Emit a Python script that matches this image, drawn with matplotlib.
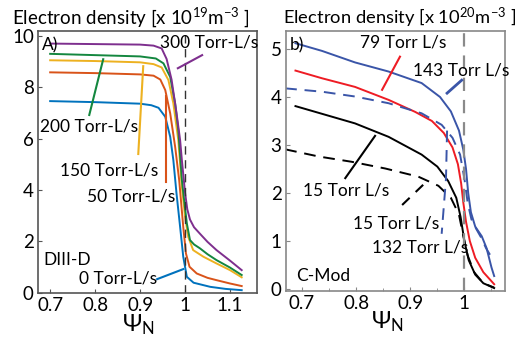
import matplotlib.pyplot as plt
from matplotlib.ticker import MultipleLocator

plt.rcParams.update({
    "font.family": "Lato",
    "mathtext.fontset": "custom",
    "mathtext.rm": "Lato",
    "mathtext.it": "Lato:italic",
})

# ---- DIII-D (left panel), density in 1e19 m^-3 ----
d3_labels = ["0 Torr-L/s", "50 Torr-L/s", "150 Torr-L/s", "200 Torr-L/s", "300 Torr-L/s"]
d3_colors = ["#0072BD", "#D95319", "#EDB120", "#14873f", "#7E2F8E"]

d3_psi_0 = [0.700, 0.800, 0.900, 0.925, 0.941, 0.956, 0.967, 0.974, 0.981, 0.989, 0.996, 1.004, 1.019, 1.056, 1.090, 1.126]
d3_ne_0 = [7.46, 7.42, 7.36, 7.30, 7.20, 6.85, 6.07, 5.16, 3.87, 2.57, 1.40, 0.62, 0.39, 0.23, 0.15, 0.10]

d3_psi_50 = [0.700, 0.800, 0.900, 0.930, 0.945, 0.956, 0.967, 0.978, 0.987, 0.996, 1.002, 1.010, 1.026, 1.050, 1.070, 1.100, 1.126]
d3_ne_50 = [8.58, 8.55, 8.50, 8.45, 8.30, 7.89, 6.98, 5.68, 4.38, 2.57, 1.53, 1.01, 0.75, 0.58, 0.49, 0.36, 0.26]

d3_psi_150 = [0.700, 0.800, 0.900, 0.930, 0.948, 0.963, 0.974, 0.985, 0.993, 1.000, 1.007, 1.018, 1.041, 1.070, 1.100, 1.126]
d3_ne_150 = [9.05, 9.02, 8.97, 8.90, 8.77, 8.28, 7.37, 5.94, 4.12, 2.96, 2.18, 1.66, 1.40, 1.14, 0.88, 0.60]

d3_psi_200 = [0.700, 0.800, 0.900, 0.935, 0.952, 0.967, 0.978, 0.985, 0.993, 0.998, 1.004, 1.011, 1.020, 1.033, 1.050, 1.070, 1.100, 1.126]
d3_ne_200 = [9.30, 9.25, 9.20, 9.12, 8.93, 8.40, 7.37, 6.33, 4.38, 3.60, 2.70, 2.05, 1.88, 1.73, 1.50, 1.27, 0.98, 0.69]

d3_psi_300 = [0.700, 0.800, 0.900, 0.930, 0.948, 0.959, 0.970, 0.981, 0.989, 0.993, 1.000, 1.005, 1.011, 1.020, 1.033, 1.050, 1.070, 1.100, 1.126]
d3_ne_300 = [9.70, 9.68, 9.66, 9.62, 9.51, 9.10, 8.30, 7.00, 5.95, 5.15, 3.90, 3.25, 2.85, 2.55, 2.30, 1.98, 1.66, 1.25, 0.88]

# ---- C-Mod (right panel), density in 1e20 m^-3 ----
cm_psi_blue = [0.688, 0.737, 0.798, 0.860, 0.921, 0.955, 0.975, 0.990, 0.998, 1.003, 1.007, 1.012, 1.020, 1.032, 1.041, 1.050, 1.055]
cm_ne_blue = [5.12, 4.96, 4.72, 4.53, 4.29, 4.00, 3.70, 3.30, 2.90, 2.50, 2.00, 1.60, 1.30, 1.10, 0.85, 0.45, 0.27]

cm_psi_red = [0.688, 0.737, 0.798, 0.860, 0.909, 0.940, 0.962, 0.978, 0.988, 0.994, 0.998, 1.003, 1.010, 1.020, 1.035, 1.055]
cm_ne_red = [4.55, 4.39, 4.21, 3.94, 3.69, 3.50, 3.25, 2.95, 2.60, 2.20, 1.80, 1.40, 1.00, 0.65, 0.35, 0.10]

cm_psi_black = [0.688, 0.798, 0.860, 0.921, 0.950, 0.970, 0.985, 0.993, 1.000, 1.008, 1.020, 1.035, 1.055]
cm_ne_black = [3.81, 3.45, 3.17, 2.80, 2.55, 2.25, 1.90, 1.50, 1.00, 0.60, 0.30, 0.12, 0.02]

cm_psi_black_d = [0.669, 0.731, 0.792, 0.854, 0.915, 0.952, 0.975, 0.990, 0.998, 1.006, 1.018, 1.035, 1.055]
cm_ne_black_d = [2.91, 2.76, 2.65, 2.51, 2.34, 2.15, 1.90, 1.55, 1.10, 0.70, 0.35, 0.12, 0.03]

cm_psi_blue_d = [0.669, 0.737, 0.798, 0.860, 0.921, 0.958, 0.978, 0.992, 1.000, 1.006, 1.013, 1.022, 1.032, 1.040, 1.048, 1.055]
cm_ne_blue_d = [4.18, 4.11, 4.01, 3.87, 3.66, 3.42, 3.15, 2.80, 2.30, 1.80, 1.45, 1.25, 1.05, 0.85, 0.70, 0.62]

cm_psi_blue_d2 = [0.968, 0.966, 0.958]
cm_ne_blue_d2 = [3.30, 2.30, 1.15]

fig = plt.figure(figsize=(5.15, 3.39), dpi=100)
ax1 = fig.add_axes([0.0738, 0.1357, 0.4252, 0.7729])
ax2 = fig.add_axes([0.5548, 0.1425, 0.4258, 0.7661])

lw = 1.4
fs = 12.5

# left panel
d3_psi = [d3_psi_0, d3_psi_50, d3_psi_150, d3_psi_200, d3_psi_300]
d3_ne = [d3_ne_0, d3_ne_50, d3_ne_150, d3_ne_200, d3_ne_300]
for psi, ne, c in zip(d3_psi, d3_ne, d3_colors):
    ax1.plot(psi, ne, color=c, lw=lw)
ax1.axvline(1.0, color="#333333", lw=1.0, dashes=(6, 4))

ax1.set_xlim(0.673, 1.16)
ax1.set_ylim(-0.01, 10.19)
ax1.set_xticks([0.7, 0.8, 0.9, 1.0, 1.1])
ax1.set_xticklabels(["0.7", "0.8", "0.9", "1", "1.1"])
ax1.set_yticks([0, 2, 4, 6, 8, 10])

ax1.text(0.682, 9.64, "A)", fontsize=fs, va="center")
ax1.text(0.944, 9.75, d3_labels[4], fontsize=fs, va="center")
ax1.plot([0.984, 1.038], [8.74, 9.25], color=d3_colors[4], lw=1.5)
ax1.text(0.678, 6.49, d3_labels[3], fontsize=fs, va="center")
ax1.plot([0.787, 0.818], [6.92, 9.09], color=d3_colors[3], lw=1.5)
ax1.text(0.722, 4.77, d3_labels[2], fontsize=fs, va="center")
ax1.plot([0.896, 0.907], [5.40, 8.82], color=d3_colors[2], lw=1.5)
ax1.text(0.782, 3.76, d3_labels[1], fontsize=fs, va="center")
ax1.plot([0.958, 0.958], [7.65, 4.31], color=d3_colors[1], lw=1.5)
ax1.text(0.684, 1.27, "DIII-D", fontsize=fs, va="center")
ax1.text(0.764, 0.57, d3_labels[0], fontsize=fs, va="center")
ax1.plot([0.938, 0.996], [0.53, 0.92], color=d3_colors[0], lw=1.5)

# right panel
ax2.plot(cm_psi_blue, cm_ne_blue, color="#3a55a8", lw=lw)
ax2.plot(cm_psi_red, cm_ne_red, color="#ee1c24", lw=lw)
ax2.plot(cm_psi_black, cm_ne_black, color="black", lw=lw)
ax2.plot(cm_psi_black_d, cm_ne_black_d, color="black", lw=lw, dashes=(6, 4))
ax2.plot(cm_psi_blue_d, cm_ne_blue_d, color="#3a55a8", lw=lw, dashes=(6, 4))
ax2.plot(cm_psi_blue_d2, cm_ne_blue_d2, color="#3a55a8", lw=lw, dashes=(6, 4))
ax2.axvline(1.0, color="#8a8a8a", lw=1.6, dashes=(6, 4))

ax2.set_xlim(0.670, 1.075)
ax2.set_ylim(-0.035, 5.375)
ax2.set_xticks([0.7, 0.8, 0.9, 1.0])
ax2.set_xticklabels(["0.7", "0.8", "0.9", "1"])
ax2.xaxis.set_minor_locator(MultipleLocator(0.05))
ax2.set_yticks([0, 1, 2, 3, 4, 5])

ax2.text(0.678, 5.08, "b)", fontsize=fs, va="center")
ax2.text(0.808, 5.125, "79 Torr L/s", fontsize=fs, va="center")
ax2.plot([0.848, 0.881], [4.15, 4.84], color="#ee1c24", lw=1.5)
ax2.text(0.905, 4.56, "143 Torr L/s", fontsize=fs, va="center")
ax2.plot([0.968, 0.995], [4.08, 4.35], color="#3a55a8", lw=2)
ax2.text(0.702, 2.06, "15 Torr L/s", fontsize=fs, va="center")
ax2.plot([0.780, 0.835], [2.31, 3.19], color="black", lw=1.5)
ax2.text(0.795, 1.375, "15 Torr L/s", fontsize=fs, va="center")
ax2.plot([0.885, 0.933], [1.75, 2.27], color="black", lw=1.5, dashes=(5, 4))
ax2.text(0.830, 0.875, "132 Torr L/s", fontsize=fs, va="center")
ax2.text(0.689, 0.27, "C-Mod", fontsize=fs, va="center")

for ax, sc in ((ax1, "#555555"), (ax2, "#888888")):
    for s in ax.spines.values():
        s.set_color(sc)
        s.set_linewidth(1.2)
    ax.tick_params(which="both", direction="in", length=3, color=sc, labelsize=13.5, pad=3)
    ax.tick_params(which="minor", length=2)

fig.text(0.0233, 0.95, "Electron density [x 10$^{19}$m$^{-3}$ ]", fontsize=13.5, va="center")
fig.text(0.5495, 0.947, "Electron density [x 10$^{20}$m$^{-3}$ ]", fontsize=13.2, va="center")
fig.text(0.268, 0.041, r"$\Psi_\mathrm{N}$", fontsize=17, ha="center", va="center")
fig.text(0.753, 0.052, r"$\Psi_\mathrm{N}$", fontsize=17, ha="center", va="center")

fig.savefig("out.png", dpi=100)
